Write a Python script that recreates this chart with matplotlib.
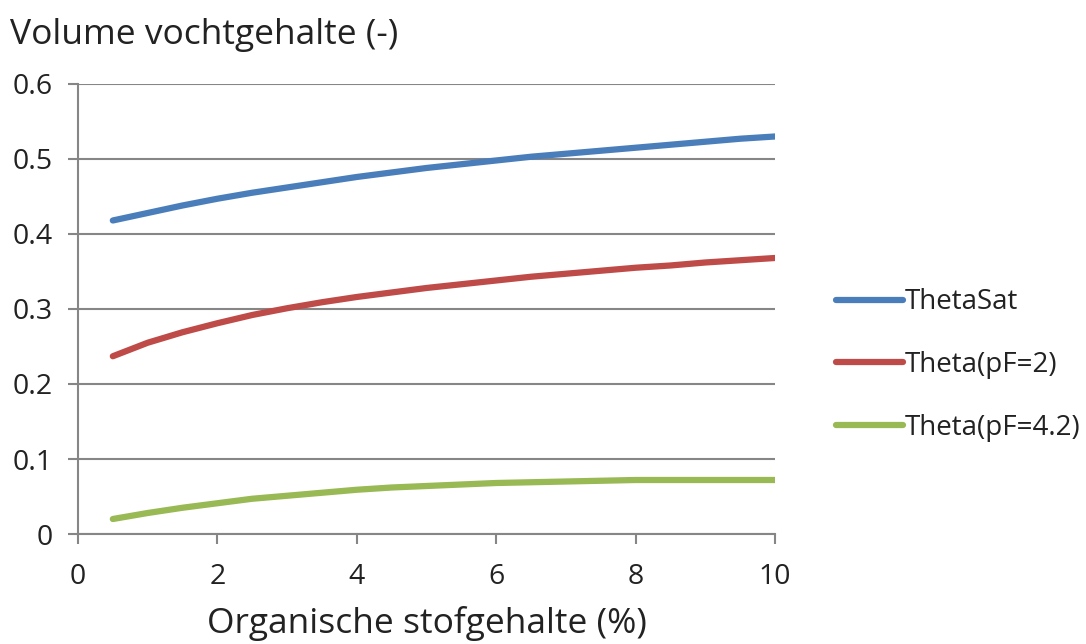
import matplotlib
matplotlib.use("Agg")
import matplotlib.pyplot as plt

plt.rcParams["font.family"] = ["Open Sans", "DejaVu Sans"]

# organic matter content (%)
om = [0.5, 1.0, 1.5, 2.0, 2.5, 3.0, 3.5, 4.0, 4.5, 5.0, 5.5, 6.0, 6.5,
      7.0, 7.5, 8.0, 8.5, 9.0, 9.5, 10.0]
theta_sat = [0.418, 0.428, 0.438, 0.447, 0.455, 0.462, 0.469, 0.476, 0.482,
             0.488, 0.493, 0.498, 0.503, 0.507, 0.511, 0.515, 0.519, 0.523,
             0.527, 0.530]
theta_pf2 = [0.237, 0.255, 0.269, 0.281, 0.292, 0.301, 0.309, 0.316, 0.322,
             0.328, 0.333, 0.338, 0.343, 0.347, 0.351, 0.355, 0.358, 0.362,
             0.365, 0.368]
theta_pf42 = [0.020, 0.028, 0.035, 0.041, 0.047, 0.051, 0.055, 0.059, 0.062,
              0.064, 0.066, 0.068, 0.069, 0.070, 0.071, 0.072, 0.072, 0.072,
              0.072, 0.072]

series = [
    ("ThetaSat", theta_sat, "#4A7EBB"),
    ("Theta(pF=2)", theta_pf2, "#BE4B48"),
    ("Theta(pF=4.2)", theta_pf42, "#98B954"),
]

fig = plt.figure(figsize=(10.86, 6.44), dpi=100)
ax = fig.add_axes([0.0718, 0.1708, 0.6418, 0.6988])

lines = []
for name, vals, col in series:
    ln, = ax.plot(om, vals, color=col, lw=4.5, solid_capstyle="round", label=name)
    lines.append(ln)

grey = "#868686"
ax.set_xlim(0, 10)
ax.set_ylim(0, 0.6)
ax.set_xticks([0, 2, 4, 6, 8, 10])
ax.set_yticks([0, 0.1, 0.2, 0.3, 0.4, 0.5, 0.6])
ax.set_yticklabels(["0", "0.1", "0.2", "0.3", "0.4", "0.5", "0.6"])
ax.yaxis.grid(True, color=grey, lw=1.5)
ax.set_axisbelow(True)
for s in ("top", "right"):
    ax.spines[s].set_visible(False)
for s in ("left", "bottom"):
    ax.spines[s].set_color(grey)
    ax.spines[s].set_linewidth(1.5)
ax.tick_params(direction="out", length=7, width=1.5, color=grey,
               labelsize=20.5, labelcolor="#222222")
ax.tick_params(axis="x", pad=14)
ax.tick_params(axis="y", pad=11)

fig.text(0.009, 0.945, "Volume vochtgehalte (-)", fontsize=25.5, color="#222222",
         va="center", ha="left")
ax.set_xlabel("Organische stofgehalte (%)", fontsize=25.5, color="#222222", labelpad=11)

fig.legend(handles=lines, loc="center left", bbox_to_anchor=(0.77, 0.433),
           frameon=False, fontsize=20, handlelength=2.4, handletextpad=0.05,
           labelspacing=1.25, borderpad=0, borderaxespad=0, labelcolor="#222222")

fig.savefig("out.png", dpi=100)
